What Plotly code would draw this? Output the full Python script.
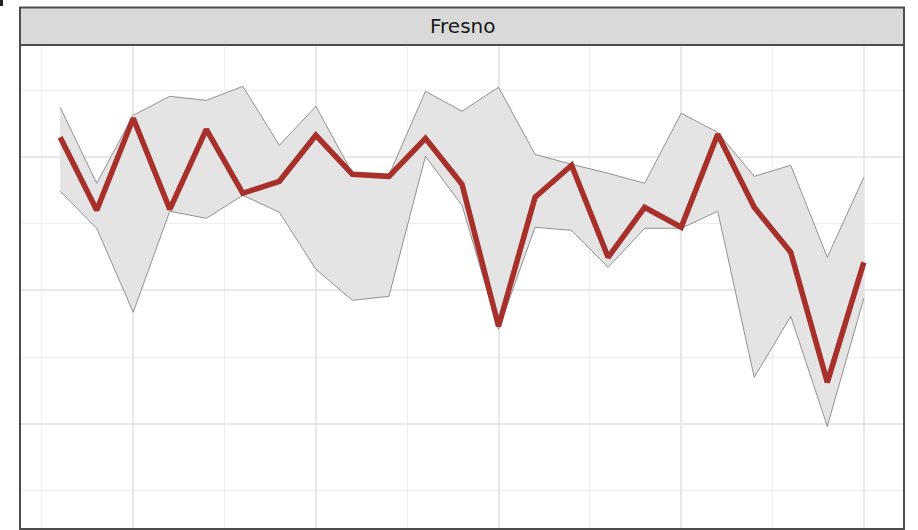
import plotly.graph_objects as go

# Fresno: yearly estimate with its uncertainty band
years = list(range(1993, 2016))
estimate = [1.148, 0.600, 1.290, 0.608, 1.208, 0.728, 0.818, 1.163, 0.870, 0.855,
            1.140, 0.795, -0.270, 0.698, 0.938, 0.248, 0.623, 0.473, 1.170, 0.623,
            0.285, -0.690, 0.210]
upper = [1.373, 0.803, 1.313, 1.455, 1.425, 1.530, 1.088, 1.380, 0.878, 0.863,
         1.493, 1.343, 1.523, 1.020, 0.945, 0.878, 0.803, 1.328, 1.185, 0.855,
         0.938, 0.248, 0.848]
lower = [0.743, 0.465, -0.165, 0.593, 0.540, 0.713, 0.585, 0.158, -0.075, -0.045,
         1.005, 0.638, -0.293, 0.473, 0.450, 0.173, 0.465, 0.465, 0.593, -0.653,
         -0.195, -1.020, -0.060]
panel_title = "Fresno"

W, H = 918, 530
ML, MR, MT, MB = 20, 14, 45, 1
plot_h = H - MT - MB

fig = go.Figure()

# band fill
fig.add_trace(go.Scatter(x=years, y=lower, mode="lines", line=dict(width=0),
                         hoverinfo="skip", showlegend=False))
fig.add_trace(go.Scatter(x=years, y=upper, mode="lines", line=dict(width=0),
                         fill="tonexty", fillcolor="#E4E4E4",
                         hoverinfo="skip", showlegend=False))
# band outlines
for edge in (upper, lower):
    fig.add_trace(go.Scatter(x=years, y=edge, mode="lines",
                             line=dict(color="#7A7A7A", width=0.8),
                             hoverinfo="skip", showlegend=False))
# estimate line
fig.add_trace(go.Scatter(x=years, y=estimate, mode="lines",
                         line=dict(color="#A8302A", width=5.5),
                         showlegend=False))

grid_major = dict(showgrid=True, gridcolor="#E8E8E8", gridwidth=2.2)
grid_minor = dict(showgrid=True, gridcolor="#EEEEEE", gridwidth=1.4)
fig.update_xaxes(range=[1991.9, 2016.1], tick0=1995, dtick=5,
                 showticklabels=False, ticks="", zeroline=False, showline=False,
                 minor=dict(tick0=1992.5, dtick=5, **grid_minor),
                 **grid_major)
fig.update_yaxes(range=[-1.79, 1.84], tick0=0, dtick=1,
                 showticklabels=False, ticks="", zeroline=False, showline=False,
                 minor=dict(tick0=0.5, dtick=1, **grid_minor),
                 **grid_major)

strip_top = 1 + (MT - 7.5) / plot_h
shapes = [
    # panel border
    dict(type="rect", xref="paper", yref="paper", x0=0, x1=1, y0=0, y1=1,
         line=dict(color="#4D4D4D", width=2), fillcolor="rgba(0,0,0,0)", layer="above"),
    # facet strip
    dict(type="rect", xref="paper", yref="paper", x0=0, x1=1, y0=1, y1=strip_top,
         line=dict(color="#4D4D4D", width=2), fillcolor="#D9D9D9", layer="above"),
    # small dark corner mark
    dict(type="rect", xref="paper", yref="paper",
         x0=-ML / (W - ML - MR), x1=(3 - ML) / (W - ML - MR),
         y0=(H - MB - 6) / plot_h, y1=(H - MB) / plot_h,
         line=dict(width=0), fillcolor="#222222", layer="above"),
]

fig.update_layout(
    width=W, height=H,
    margin=dict(l=ML, r=MR, t=MT, b=MB, pad=0),
    paper_bgcolor="white", plot_bgcolor="white",
    shapes=shapes,
    annotations=[dict(text=panel_title, xref="paper", yref="paper",
                      x=0.5, y=(1 + strip_top) / 2, xanchor="center", yanchor="middle",
                      showarrow=False,
                      font=dict(family="DejaVu Sans, Arial, sans-serif",
                                size=20, color="#1A1A1A"))],
    showlegend=False,
)

fig.write_html("out.html", config={"displayModeBar": False})
